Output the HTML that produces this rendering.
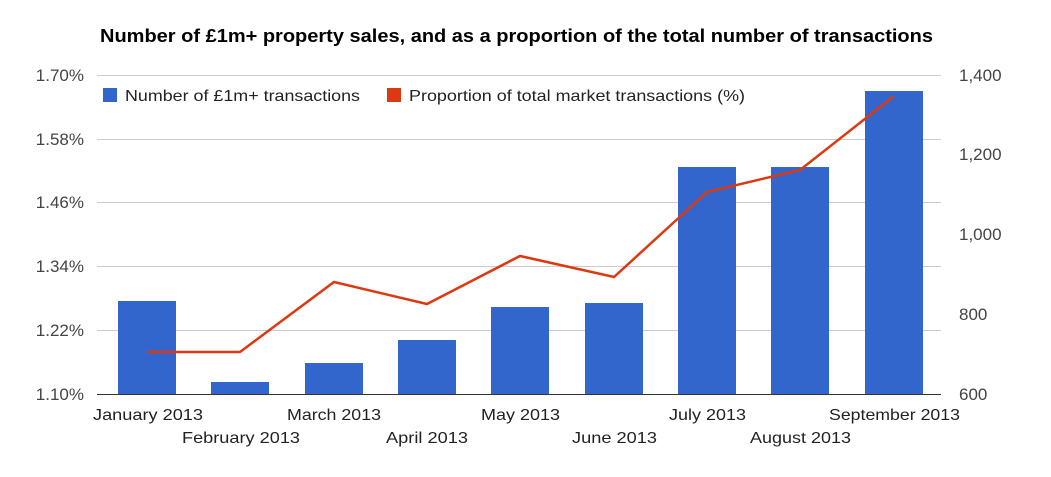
<!DOCTYPE html>
<html><head><meta charset="utf-8"><style>
html,body{margin:0;padding:0;background:#fff;}
svg{display:block;font-family:"Liberation Sans",Arial,sans-serif;}
</style></head><body>
<svg width="1051" height="477" viewBox="0 0 1051 477">
<text x="100" y="42" textLength="833" lengthAdjust="spacingAndGlyphs" font-size="18" font-weight="bold" fill="#000">Number of £1m+ property sales, and as a proportion of the total number of transactions</text>
<g stroke="#cccccc" stroke-width="1">
<line x1="97" y1="75.5" x2="941" y2="75.5"/>
<line x1="97" y1="139.5" x2="941" y2="139.5"/>
<line x1="97" y1="202.5" x2="941" y2="202.5"/>
<line x1="97" y1="266.5" x2="941" y2="266.5"/>
<line x1="97" y1="330.5" x2="941" y2="330.5"/>
</g>
<g fill="#3366cc">
<rect x="118" y="301" width="58" height="93"/>
<rect x="211" y="382" width="58" height="12"/>
<rect x="305" y="363" width="58" height="31"/>
<rect x="398" y="340" width="58" height="54"/>
<rect x="491" y="307" width="58" height="87"/>
<rect x="585" y="303" width="58" height="91"/>
<rect x="678" y="167" width="58" height="227"/>
<rect x="771" y="167" width="58" height="227"/>
<rect x="865" y="91" width="58" height="303"/>
</g>
<line x1="97" y1="394.5" x2="941" y2="394.5" stroke="#333" stroke-width="1"/>
<polyline fill="none" stroke="#dc3912" stroke-width="2.5" points="147,352 240,352 334,282 427,304 520,256 614,277 707,192 800,170 894,96"/>
<g font-size="17" fill="#444" text-anchor="end">
<text x="84" y="81">1.70%</text>
<text x="84" y="145">1.58%</text>
<text x="84" y="208">1.46%</text>
<text x="84" y="272">1.34%</text>
<text x="84" y="336">1.22%</text>
<text x="84" y="400">1.10%</text>
</g>
<g font-size="17" fill="#444">
<text x="959" y="81">1,400</text>
<text x="959" y="160">1,200</text>
<text x="959" y="240">1,000</text>
<text x="959" y="320">800</text>
<text x="959" y="400">600</text>
</g>
<g font-size="16" fill="#222">
<text x="93" y="420" textLength="110" lengthAdjust="spacingAndGlyphs">January 2013</text>
<text x="182" y="443" textLength="118" lengthAdjust="spacingAndGlyphs">February 2013</text>
<text x="287" y="420" textLength="94" lengthAdjust="spacingAndGlyphs">March 2013</text>
<text x="386" y="443" textLength="82" lengthAdjust="spacingAndGlyphs">April 2013</text>
<text x="481" y="420" textLength="79" lengthAdjust="spacingAndGlyphs">May 2013</text>
<text x="572" y="443" textLength="85" lengthAdjust="spacingAndGlyphs">June 2013</text>
<text x="669" y="420" textLength="77" lengthAdjust="spacingAndGlyphs">July 2013</text>
<text x="750" y="443" textLength="101" lengthAdjust="spacingAndGlyphs">August 2013</text>
<text x="829" y="420" textLength="131" lengthAdjust="spacingAndGlyphs">September 2013</text>
</g>
<rect x="103" y="88" width="14" height="14" fill="#3366cc"/>
<text x="125" y="101" font-size="16" fill="#222" textLength="235" lengthAdjust="spacingAndGlyphs">Number of £1m+ transactions</text>
<rect x="387" y="88" width="14" height="14" fill="#dc3912"/>
<text x="409" y="101" font-size="16" fill="#222" textLength="336" lengthAdjust="spacingAndGlyphs">Proportion of total market transactions (%)</text>
</svg>
</body></html>
